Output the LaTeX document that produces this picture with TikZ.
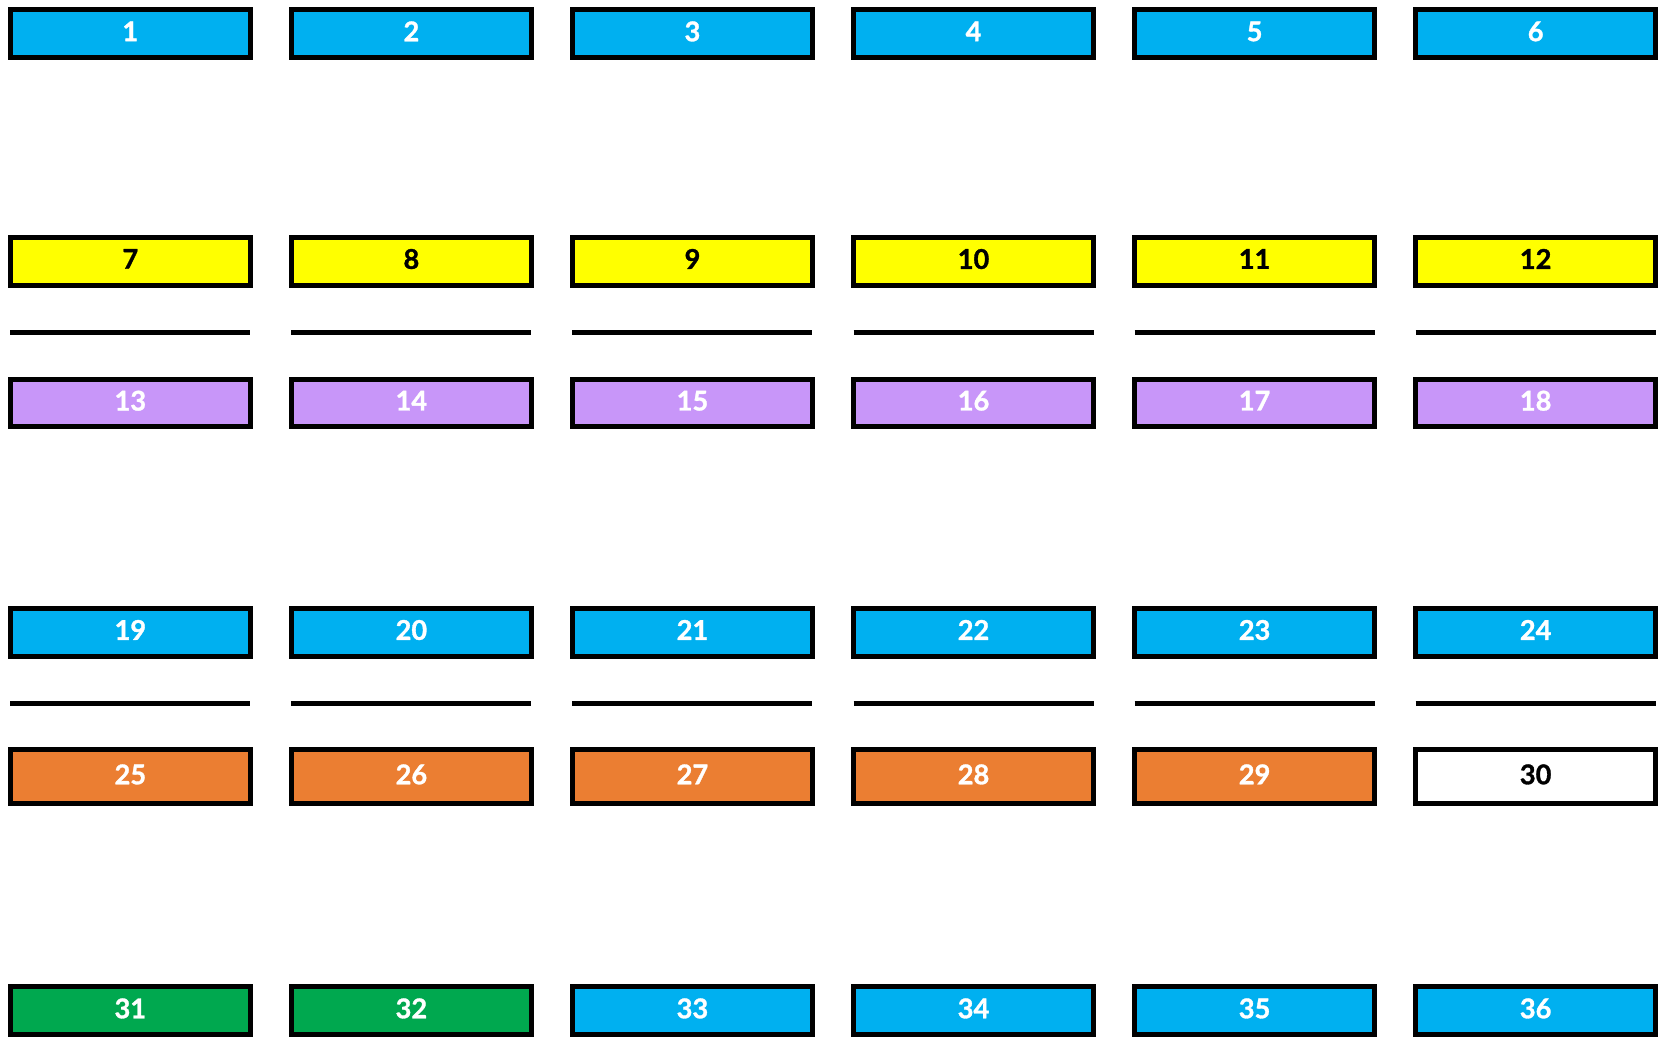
\documentclass[tikz,border=0pt]{standalone}
\usepackage{fontspec}
\setmainfont{Lato}[BoldFeatures={FakeBold=1.2}]
\definecolor{cblue}{HTML}{00B0F0}
\definecolor{cyellow}{HTML}{FFFF00}
\definecolor{cpurple}{HTML}{C896F9}
\definecolor{corange}{HTML}{EB7E32}
\definecolor{cgreen}{HTML}{00A84F}
\newcommand{\boxlbl}[1]{\raisebox{2.4pt}{#1}}
\begin{document}
\begin{tikzpicture}[x=0.5pt,y=-0.5pt,
  box/.style={draw=black,line width=2.5pt,minimum width=119.85pt,minimum height=23.85pt,inner sep=0pt,
    font=\fontsize{13.6}{14}\selectfont\bfseries,text=white},
  tallbox/.style={box,minimum height=26.85pt},
  bluebox/.style={box,fill=cblue},
  yellowbox/.style={box,fill=cyellow,text=black},
  purplebox/.style={box,fill=cpurple},
  orangebox/.style={tallbox,fill=corange},
  whitebox/.style={tallbox,fill=white,text=black},
  greenbox/.style={box,fill=cgreen},
  sep/.style={draw=black,line width=2.5pt}]
\useasboundingbox (0,0) rectangle (1659,1041);
\foreach \c in {0,...,5}{
  \pgfmathsetmacro\x{130.35+281.06*\c}
  \pgfmathtruncatemacro\na{\c+1}
  \pgfmathtruncatemacro\nb{\c+7}
  \pgfmathtruncatemacro\nc{\c+13}
  \pgfmathtruncatemacro\nd{\c+19}
  \pgfmathtruncatemacro\ne{\c+25}
  \pgfmathtruncatemacro\nf{\c+31}
  \node[bluebox] (b\na) at (\x,33.7) {\boxlbl{\na}};
  \node[yellowbox] (b\nb) at (\x,261.3) {\boxlbl{\nb}};
  \node[purplebox] (b\nc) at (\x,403) {\boxlbl{\nc}};
  \node[bluebox] (b\nd) at (\x,632.3) {\boxlbl{\nd}};
  \ifnum\c=5
    \node[whitebox] (b\ne) at (\x,776.7) {\boxlbl{\ne}};
  \else
    \node[orangebox] (b\ne) at (\x,776.7) {\boxlbl{\ne}};
  \fi
  \ifnum\c<2
    \node[greenbox] (b\nf) at (\x,1010.7) {\boxlbl{\nf}};
  \else
    \node[bluebox] (b\nf) at (\x,1010.7) {\boxlbl{\nf}};
  \fi
  \coordinate (la\c) at (\x-120,332.5);
  \coordinate (lb\c) at (\x+120,332.5);
  \coordinate (lc\c) at (\x-120,703);
  \coordinate (ld\c) at (\x+120,703);
  \draw[sep] (la\c) -- (lb\c);
  \draw[sep] (lc\c) -- (ld\c);
}
\end{tikzpicture}
\end{document}
